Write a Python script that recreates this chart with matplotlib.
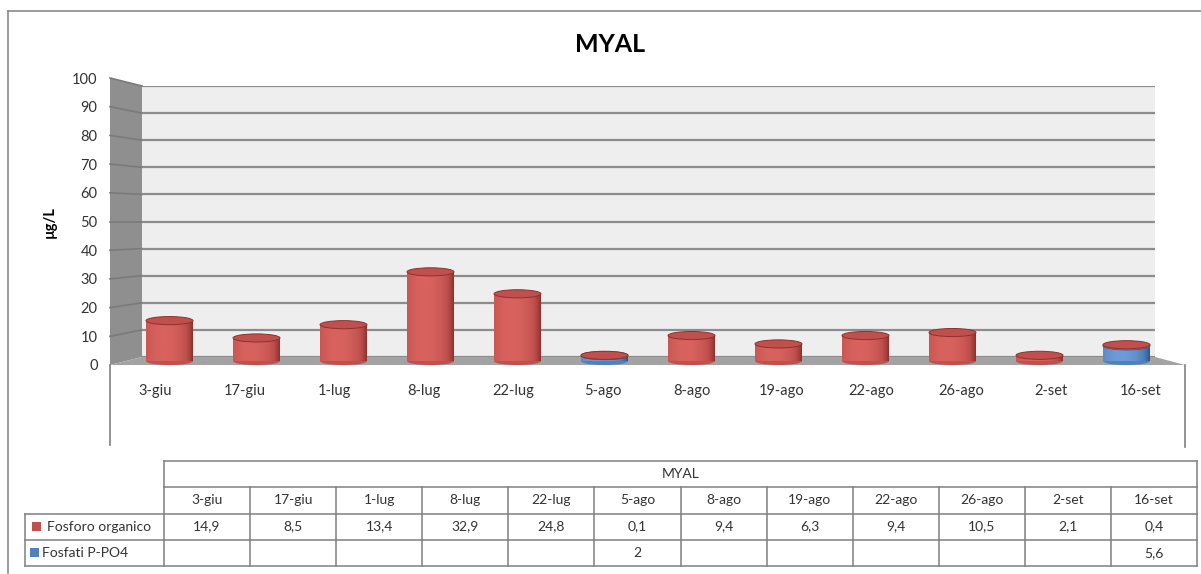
import numpy as np
import matplotlib
matplotlib.use('Agg')
import matplotlib.pyplot as plt
from matplotlib.patches import Ellipse, Polygon, Rectangle
from matplotlib.lines import Line2D
from matplotlib.transforms import Affine2D
from matplotlib.colors import LinearSegmentedColormap

plt.rcParams['font.family'] = ['Lato', 'DejaVu Sans']

# data
dates = ['3-giu', '17-giu', '1-lug', '8-lug', '22-lug', '5-ago', '8-ago',
         '19-ago', '22-ago', '26-ago', '2-set', '16-set']
fosforo_organico = [14.9, 8.5, 13.4, 32.9, 24.8, 0.1, 9.4, 6.3, 9.4, 10.5, 2.1, 0.4]
fosfati_po4 = [np.nan, np.nan, np.nan, np.nan, np.nan, 2, np.nan, np.nan,
               np.nan, np.nan, np.nan, 5.6]
yticks = list(range(0, 101, 10))

W, H = 1201, 574
RED, RED_HI, RED_LO = '#c0504d', '#d8625e', '#8f302d'
BLUE, BLUE_HI, BLUE_LO = '#4f81bd', '#6f9bd6', '#2c558a'
GRID = '#8c8c8c'
TXT = '#333333'

fig = plt.figure(figsize=(W / 100, H / 100), dpi=100)
fig.patch.set_facecolor('white')


def fbox(l, t, r, b):
    return [l / W, 1 - b / H, (r - l) / W, (b - t) / H]


pix = Affine2D().scale(1 / W, -1 / H).translate(0, 1) + fig.transFigure

# outer chart border (cut on right/bottom in the original)
fig.add_artist(Line2D([8 / W, 1], [1 - 11 / H, 1 - 11 / H], color='#8a8a8a', lw=1.2))
fig.add_artist(Line2D([8 / W, 8 / W], [0, 1 - 11 / H], color='#8a8a8a', lw=1.2))

fig.text(610 / W, 1 - 44 / H, 'MYAL', ha='center', va='center', fontsize=18,
         fontweight='bold', color='black')
fig.text(50 / W, 1 - 222 / H, 'µg/L', ha='center', va='center', rotation=90,
         fontsize=10.5, fontweight='bold', color='black')

# front plane: tick labels & category labels
axf = fig.add_axes(fbox(110, 78, 1185, 365), zorder=0)
axf.set_xlim(-0.5, 11.5)
axf.set_ylim(0, 100)
axf.patch.set_visible(False)
for s in axf.spines.values():
    s.set_visible(False)
axf.set_yticks(yticks)
axf.set_yticklabels([str(v) for v in yticks], fontsize=10.5, color=TXT)
axf.set_xticks(range(len(dates)))
axf.set_xticklabels(dates, fontsize=10.5, color=TXT)
axf.tick_params(length=0)
axf.tick_params(axis='x', pad=14)
axf.tick_params(axis='y', pad=9)

# back wall
ax = fig.add_axes(fbox(142, 86, 1155, 357), zorder=1)
ax.set_xlim(-0.5, 11.5)
ax.set_ylim(0, 100)
ax.set_facecolor('#eeeeee')
for s in ax.spines.values():
    s.set_visible(False)
ax.set_yticks(yticks)
ax.set_xticks([])
ax.tick_params(left=False, labelleft=False)
ax.set_axisbelow(True)
ax.grid(axis='y', color=GRID, lw=1.6)

# side wall and floor
ax.add_patch(Polygon([(110, 78), (142, 86), (142, 357), (110, 365)], closed=True,
                     facecolor='#8f8f8f', edgecolor='none', transform=pix,
                     clip_on=False, zorder=0.2))
ax.add_patch(Polygon([(110, 365), (142, 357), (1155, 357), (1185, 365)], closed=True,
                     facecolor='#a3a3a3', edgecolor='none', transform=pix,
                     clip_on=False, zorder=0.2))
for v in yticks[1:]:
    ax.add_line(Line2D([110, 142], [365 - v * 2.87, 357 - v * 2.71], color='#7a7a7a',
                       lw=1.2, transform=pix, clip_on=False, zorder=0.3))

# cylinders sit on the mid-depth plane of the floor
axb = fig.add_axes(fbox(126, 90, 1170, 361), zorder=2)
axb.set_xlim(-0.5, 11.5)
axb.set_ylim(0, 100)
axb.axis('off')

bw = 0.54
eh = 3.0
x = np.arange(len(dates))
blue_vals = np.nan_to_num(fosfati_po4)

t = np.linspace(0, 1, 64)
shade = np.clip(1 - ((t - 0.38) / 0.62) ** 2, 0, 1) ** 0.8


def cylinders(vals, bottoms, col, hi, lo, z):
    cmap = LinearSegmentedColormap.from_list('c', [lo, col, hi])
    bars = axb.bar(x, vals, bw, bottom=bottoms, color=col, zorder=z, clip_on=False)
    for xi, v, b, p in zip(x, vals, bottoms, bars.patches):
        if not v or np.isnan(v):
            p.set_visible(False)
            continue
        im = axb.imshow(shade[None, :], cmap=cmap, vmin=0, vmax=1, aspect='auto',
                        extent=(xi - bw / 2, xi + bw / 2, b, b + v), zorder=z + 0.01)
        im.set_clip_path(p)
        axb.add_patch(Ellipse((xi, b), bw, eh, facecolor=col, edgecolor='none',
                              zorder=z - 0.01, clip_on=False))
        axb.add_patch(Ellipse((xi, b + v), bw, eh, facecolor=col,
                              edgecolor=lo, lw=0.7, zorder=z + 0.02, clip_on=False))


cylinders(blue_vals, np.zeros(len(x)), BLUE, BLUE_HI, BLUE_LO, 2)
cylinders(np.array(fosforo_organico), blue_vals, RED, RED_HI, RED_LO, 3)
axb.set_xlim(-0.5, 11.5)
axb.set_ylim(0, 100)

# category area outline
fig.add_artist(Line2D([110 / W, 110 / W], [1 - 365 / H, 1 - 445 / H], color='#808080', lw=1.2))
fig.add_artist(Line2D([1185 / W, 1185 / W], [1 - 365 / H, 1 - 447 / H], color='#808080', lw=1.2))

# data table
tab = fig.add_axes(fbox(25, 461, 1197, 566))
x0 = -139 / 86.08
n = len(dates)
tab.set_xlim(x0, n)
tab.set_ylim(4, 0)
tab.axis('off')
lc = '#808080'
for yy, xa in [(0, 0), (1, 0), (2, x0), (3, x0), (4, x0)]:
    tab.plot([xa, n], [yy, yy], color=lc, lw=1.1, clip_on=False)
tab.plot([x0, x0], [2, 4], color=lc, lw=1.1, clip_on=False)
tab.plot([0, 0], [0, 4], color=lc, lw=1.1, clip_on=False)
tab.plot([n, n], [0, 4], color=lc, lw=1.1, clip_on=False)
for i in range(1, n):
    tab.plot([i, i], [1, 4], color=lc, lw=1.1, clip_on=False)

tab.text(n / 2, 0.5, 'MYAL', ha='center', va='center', fontsize=10, color=TXT)
for i, d in enumerate(dates):
    tab.text(i + 0.5, 1.5, d, ha='center', va='center', fontsize=10, color=TXT)


def fmt(v):
    return '' if np.isnan(v) else ('%g' % v).replace('.', ',')


for i in range(n):
    tab.text(i + 0.5, 2.5, fmt(fosforo_organico[i]), ha='center', va='center',
             fontsize=10, color=TXT)
    tab.text(i + 0.5, 3.5, fmt(fosfati_po4[i]), ha='center', va='center',
             fontsize=10, color=TXT)

sw, sh = 9 / 86.08, 9 / 26.25
tab.add_patch(Rectangle((x0 + 7 / 86.08, 2.5 - sh / 2), sw, sh, facecolor=RED,
                        edgecolor='none'))
tab.add_patch(Rectangle((x0 + 5 / 86.08, 3.5 - sh / 2), sw, sh, facecolor=BLUE,
                        edgecolor='none'))
tab.text(x0 + 22 / 86.08, 2.5, 'Fosforo organico', ha='left', va='center',
         fontsize=10, color=TXT)
tab.text(x0 + 17 / 86.08, 3.5, 'Fosfati P-PO4', ha='left', va='center',
         fontsize=10, color=TXT)

fig.savefig('out.png', dpi=100)
